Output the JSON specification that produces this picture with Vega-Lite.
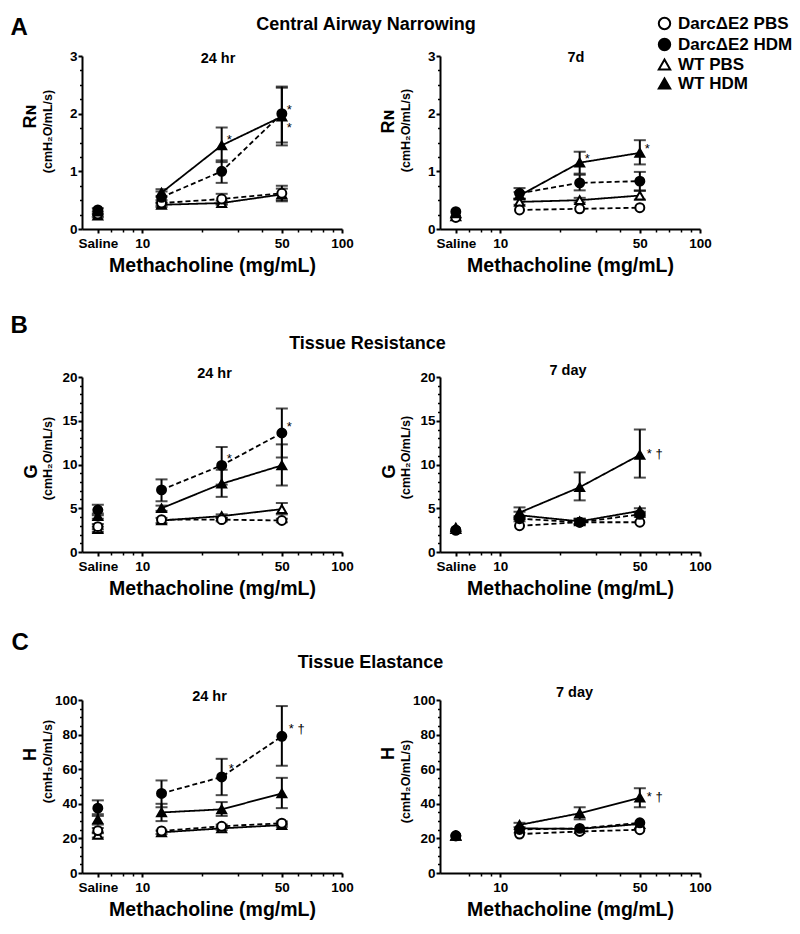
{
  "$schema": "https://vega.github.io/schema/vega-lite/v6.json",
  "padding": {"left": 10, "top": 15, "right": 5, "bottom": 5},
  "config": {
    "font": "Liberation Sans",
    "view": {"stroke": null},
    "axis": {"grid": false, "domainColor": "black", "tickColor": "black", "labelColor": "black", "titleColor": "black", "domainWidth": 2, "tickWidth": 2, "labelFontWeight": "bold", "titleFontWeight": "bold", "labelFontSize": 13.5},
    "legend": {"labelFontWeight": "bold", "labelColor": "black"}
  },
  "datasets": {
    "d": [
      {"p":"A24","g":"WT PBS","dose":6,"v":0.23,"lo":0.20,"hi":0.26},
      {"p":"A24","g":"WT PBS","dose":12.5,"v":0.42,"lo":0.38,"hi":0.46},
      {"p":"A24","g":"WT PBS","dose":25,"v":0.45,"lo":0.42,"hi":0.49},
      {"p":"A24","g":"WT PBS","dose":50,"v":0.60,"lo":0.50,"hi":0.70},
      {"p":"A24","g":"DarcΔE2 PBS","dose":6,"v":0.26},
      {"p":"A24","g":"DarcΔE2 PBS","dose":12.5,"v":0.45,"lo":0.41,"hi":0.50},
      {"p":"A24","g":"DarcΔE2 PBS","dose":25,"v":0.52,"lo":0.44,"hi":0.61},
      {"p":"A24","g":"DarcΔE2 PBS","dose":50,"v":0.62,"lo":0.48,"hi":0.75},
      {"p":"A24","g":"WT HDM","dose":6,"v":0.30},
      {"p":"A24","g":"WT HDM","dose":12.5,"v":0.63,"lo":0.57,"hi":0.69},
      {"p":"A24","g":"WT HDM","dose":25,"v":1.45,"lo":1.16,"hi":1.76},
      {"p":"A24","g":"WT HDM","dose":50,"v":1.95,"lo":1.45,"hi":2.45},
      {"p":"A24","g":"DarcΔE2 HDM","dose":6,"v":0.33,"lo":0.30,"hi":0.36},
      {"p":"A24","g":"DarcΔE2 HDM","dose":12.5,"v":0.55,"lo":0.45,"hi":0.65},
      {"p":"A24","g":"DarcΔE2 HDM","dose":25,"v":1.0,"lo":0.80,"hi":1.19},
      {"p":"A24","g":"DarcΔE2 HDM","dose":50,"v":2.0,"lo":1.50,"hi":2.47},

      {"p":"A7","g":"WT PBS","dose":6,"v":0.22},
      {"p":"A7","g":"WT PBS","dose":12.5,"v":0.47,"lo":0.42,"hi":0.52},
      {"p":"A7","g":"WT PBS","dose":25,"v":0.50,"lo":0.46,"hi":0.54},
      {"p":"A7","g":"WT PBS","dose":50,"v":0.58,"lo":0.51,"hi":0.66},
      {"p":"A7","g":"DarcΔE2 PBS","dose":6,"v":0.20},
      {"p":"A7","g":"DarcΔE2 PBS","dose":12.5,"v":0.33},
      {"p":"A7","g":"DarcΔE2 PBS","dose":25,"v":0.35},
      {"p":"A7","g":"DarcΔE2 PBS","dose":50,"v":0.37},
      {"p":"A7","g":"WT HDM","dose":6,"v":0.27},
      {"p":"A7","g":"WT HDM","dose":12.5,"v":0.58,"lo":0.52,"hi":0.64},
      {"p":"A7","g":"WT HDM","dose":25,"v":1.15,"lo":0.96,"hi":1.34},
      {"p":"A7","g":"WT HDM","dose":50,"v":1.32,"lo":1.12,"hi":1.54},
      {"p":"A7","g":"DarcΔE2 HDM","dose":6,"v":0.30},
      {"p":"A7","g":"DarcΔE2 HDM","dose":12.5,"v":0.62,"lo":0.53,"hi":0.71},
      {"p":"A7","g":"DarcΔE2 HDM","dose":25,"v":0.80,"lo":0.67,"hi":0.94},
      {"p":"A7","g":"DarcΔE2 HDM","dose":50,"v":0.83,"lo":0.67,"hi":0.99},

      {"p":"B24","g":"WT PBS","dose":6,"v":2.6,"lo":2.3,"hi":2.9},
      {"p":"B24","g":"WT PBS","dose":12.5,"v":3.6,"lo":3.3,"hi":3.9},
      {"p":"B24","g":"WT PBS","dose":25,"v":4.1,"lo":3.9,"hi":4.3},
      {"p":"B24","g":"WT PBS","dose":50,"v":4.9,"lo":4.3,"hi":5.6},
      {"p":"B24","g":"DarcΔE2 PBS","dose":6,"v":2.9,"lo":2.6,"hi":3.2},
      {"p":"B24","g":"DarcΔE2 PBS","dose":12.5,"v":3.7},
      {"p":"B24","g":"DarcΔE2 PBS","dose":25,"v":3.7,"lo":3.5,"hi":3.9},
      {"p":"B24","g":"DarcΔE2 PBS","dose":50,"v":3.6,"lo":3.4,"hi":3.8},
      {"p":"B24","g":"WT HDM","dose":6,"v":4.1,"lo":3.8,"hi":4.4},
      {"p":"B24","g":"WT HDM","dose":12.5,"v":5.0,"lo":4.7,"hi":5.3},
      {"p":"B24","g":"WT HDM","dose":25,"v":7.8,"lo":6.3,"hi":9.4},
      {"p":"B24","g":"WT HDM","dose":50,"v":9.9,"lo":7.6,"hi":12.3},
      {"p":"B24","g":"DarcΔE2 HDM","dose":6,"v":4.8,"lo":4.2,"hi":5.4},
      {"p":"B24","g":"DarcΔE2 HDM","dose":12.5,"v":7.1,"lo":5.8,"hi":8.3},
      {"p":"B24","g":"DarcΔE2 HDM","dose":25,"v":9.9,"lo":7.7,"hi":12.0},
      {"p":"B24","g":"DarcΔE2 HDM","dose":50,"v":13.6,"lo":10.8,"hi":16.4},

      {"p":"B7","g":"WT PBS","dose":6,"v":2.6},
      {"p":"B7","g":"WT PBS","dose":12.5,"v":4.2,"lo":3.8,"hi":4.6},
      {"p":"B7","g":"WT PBS","dose":25,"v":3.5,"lo":3.2,"hi":3.8},
      {"p":"B7","g":"WT PBS","dose":50,"v":4.7,"lo":4.4,"hi":5.0},
      {"p":"B7","g":"DarcΔE2 PBS","dose":6,"v":2.5},
      {"p":"B7","g":"DarcΔE2 PBS","dose":12.5,"v":3.0},
      {"p":"B7","g":"DarcΔE2 PBS","dose":25,"v":3.4,"lo":3.2,"hi":3.7},
      {"p":"B7","g":"DarcΔE2 PBS","dose":50,"v":3.4},
      {"p":"B7","g":"WT HDM","dose":6,"v":2.8},
      {"p":"B7","g":"WT HDM","dose":12.5,"v":4.5,"lo":3.9,"hi":5.1},
      {"p":"B7","g":"WT HDM","dose":25,"v":7.4,"lo":5.9,"hi":9.1},
      {"p":"B7","g":"WT HDM","dose":50,"v":11.1,"lo":8.5,"hi":14.0},
      {"p":"B7","g":"DarcΔE2 HDM","dose":6,"v":2.5},
      {"p":"B7","g":"DarcΔE2 HDM","dose":12.5,"v":3.8,"lo":3.5,"hi":4.1},
      {"p":"B7","g":"DarcΔE2 HDM","dose":25,"v":3.4,"lo":3.1,"hi":3.8},
      {"p":"B7","g":"DarcΔE2 HDM","dose":50,"v":4.3,"lo":4.0,"hi":4.6},

      {"p":"C24","g":"WT PBS","dose":6,"v":22,"lo":20.5,"hi":23.5},
      {"p":"C24","g":"WT PBS","dose":12.5,"v":23.5,"lo":22.5,"hi":24.5},
      {"p":"C24","g":"WT PBS","dose":25,"v":25.8,"lo":24.8,"hi":26.8},
      {"p":"C24","g":"WT PBS","dose":50,"v":27.7,"lo":26.7,"hi":28.7},
      {"p":"C24","g":"DarcΔE2 PBS","dose":6,"v":24.5,"lo":23,"hi":26},
      {"p":"C24","g":"DarcΔE2 PBS","dose":12.5,"v":24.3},
      {"p":"C24","g":"DarcΔE2 PBS","dose":25,"v":27.0,"lo":26,"hi":28},
      {"p":"C24","g":"DarcΔE2 PBS","dose":50,"v":28.8,"lo":27.8,"hi":29.8},
      {"p":"C24","g":"WT HDM","dose":6,"v":31,"lo":28,"hi":34},
      {"p":"C24","g":"WT HDM","dose":12.5,"v":35,"lo":30,"hi":40},
      {"p":"C24","g":"WT HDM","dose":25,"v":36.8,"lo":33,"hi":41},
      {"p":"C24","g":"WT HDM","dose":50,"v":46,"lo":37.5,"hi":55},
      {"p":"C24","g":"DarcΔE2 HDM","dose":6,"v":37.5,"lo":33,"hi":42},
      {"p":"C24","g":"DarcΔE2 HDM","dose":12.5,"v":46,"lo":38,"hi":53.5},
      {"p":"C24","g":"DarcΔE2 HDM","dose":25,"v":55.5,"lo":45,"hi":66},
      {"p":"C24","g":"DarcΔE2 HDM","dose":50,"v":79,"lo":62,"hi":96.5},

      {"p":"C7","g":"WT PBS","dose":6,"v":21.5},
      {"p":"C7","g":"WT PBS","dose":12.5,"v":25.8},
      {"p":"C7","g":"WT PBS","dose":25,"v":25.5},
      {"p":"C7","g":"WT PBS","dose":50,"v":28.3},
      {"p":"C7","g":"DarcΔE2 PBS","dose":6,"v":21.5},
      {"p":"C7","g":"DarcΔE2 PBS","dose":12.5,"v":22.5},
      {"p":"C7","g":"DarcΔE2 PBS","dose":25,"v":24},
      {"p":"C7","g":"DarcΔE2 PBS","dose":50,"v":25},
      {"p":"C7","g":"WT HDM","dose":6,"v":21.5},
      {"p":"C7","g":"WT HDM","dose":12.5,"v":27.8,"lo":26.5,"hi":29},
      {"p":"C7","g":"WT HDM","dose":25,"v":34.5,"lo":31,"hi":38},
      {"p":"C7","g":"WT HDM","dose":50,"v":43.5,"lo":38,"hi":49},
      {"p":"C7","g":"DarcΔE2 HDM","dose":6,"v":21.5},
      {"p":"C7","g":"DarcΔE2 HDM","dose":12.5,"v":25.2},
      {"p":"C7","g":"DarcΔE2 HDM","dose":25,"v":25.8},
      {"p":"C7","g":"DarcΔE2 HDM","dose":50,"v":29.0}
    ],
    "ann": [
      {"p":"A24","dose":25,"y":1.55,"label":"*"},
      {"p":"A24","dose":50,"y":2.06,"label":"*"},
      {"p":"A24","dose":50,"y":1.76,"label":"*"},
      {"p":"A7","dose":25,"y":1.22,"label":"*"},
      {"p":"A7","dose":50,"y":1.38,"label":"*"},
      {"p":"B24","dose":25,"y":10.6,"label":"*"},
      {"p":"B24","dose":50,"y":14.3,"label":"*"},
      {"p":"B7","dose":50,"y":11.2,"label":"* †"},
      {"p":"C24","dose":25,"y":60,"label":"*"},
      {"p":"C24","dose":50,"y":83,"label":"* †"},
      {"p":"C7","dose":50,"y":44,"label":"* †"}
    ]
  },
  "columns": 2,
  "bounds": "flush",
  "spacing": {"row": 148, "column": 98},
  "resolve": {"legend": {"shape": "independent", "fill": "independent"}},
  "concat": [
    {
      "width": 260, "height": 173,
      "data": {"name": "d"},
      "transform": [{"filter": "datum.p == 'A24'"}],
      "resolve": {"axis": {"x": "independent", "y": "independent"}},
      "layer": [
        {"transform": [{"filter": "isValid(datum.lo)"}],
         "mark": {"type": "errorbar", "ticks": true, "size": 12, "thickness": 2, "color": "black"},
         "encoding": {
           "x": {"field": "dose", "type": "quantitative", "scale": {"type": "log", "domain": [5, 100], "nice": false},
                 "axis": {"orient": "bottom", "values": [6, 10, 50, 100], "labelExpr": "datum.value < 8 ? 'Saline' : format(datum.value, 'd')", "labelFlush": false, "labelOverlap": false, "tickSize": 4, "labelPadding": 3, "title": "Methacholine (mg/mL)", "titleFontSize": 19.5, "titleY": 42, "titleBaseline": "alphabetic"}},
           "y": {"field": "lo", "type": "quantitative", "scale": {"domain": [0, 3], "nice": false},
                 "axis": {"orient": "left", "values": [0, 1, 2, 3], "tickSize": 4, "labelPadding": 1, "title": "(cmH₂O/mL/s)", "titleFontSize": 12.5, "titleX": -31, "titleY": 75, "titleAngle": -90, "titleAlign": "center", "titleBaseline": "alphabetic"}},
           "y2": {"field": "hi"}
         }},
        {"transform": [{"filter": "datum.dose > 8"}],
         "mark": {"type": "line", "color": "black", "strokeWidth": 1.8},
         "encoding": {
           "x": {"field": "dose", "type": "quantitative", "axis": {"orient": "top", "domain": false, "ticks": false, "labels": false, "title": "24 hr", "titleFontSize": 14.5, "titleX": 135.5, "titleY": 6, "titleAlign": "center", "titleBaseline": "alphabetic"}},
           "y": {"field": "v", "type": "quantitative", "axis": {"orient": "left", "values": [0.25, 0.5, 0.75, 1.25, 1.5, 1.75, 2.25, 2.5, 2.75], "labels": false, "domain": false, "tickSize": 2.5, "tickWidth": 1.5, "title": null}},
           "strokeDash": {"field": "g", "type": "nominal", "scale": {"domain": ["DarcΔE2 PBS", "DarcΔE2 HDM", "WT PBS", "WT HDM"], "range": [[5, 3], [5, 3], [1, 0], [1, 0]]}, "legend": null}
         }},
        {"mark": {"type": "point", "stroke": "black", "strokeWidth": 2, "opacity": 1, "size": 80},
         "encoding": {
           "x": {"field": "dose", "type": "quantitative", "axis": {"orient": "bottom", "values": [7, 8, 9, 20, 30, 40, 60, 70, 80, 90], "labels": false, "domain": false, "tickSize": 3, "tickWidth": 1.5, "title": null}},
           "y": {"field": "v", "type": "quantitative", "axis": {"orient": "left", "labels": false, "ticks": false, "domain": false, "title": "Rɴ", "titleFontSize": 18, "titleX": -47, "titleY": 60, "titleAngle": -90, "titleAlign": "center", "titleBaseline": "alphabetic"}},
           "shape": {"field": "g", "type": "nominal", "scale": {"domain": ["DarcΔE2 PBS", "DarcΔE2 HDM", "WT PBS", "WT HDM"], "range": ["circle", "circle", "triangle-up", "triangle-up"]}, "legend": null},
           "fill": {"field": "g", "type": "nominal", "scale": {"domain": ["DarcΔE2 PBS", "DarcΔE2 HDM", "WT PBS", "WT HDM"], "range": ["white", "black", "white", "black"]}, "legend": null}
         }},
        {"data": {"name": "ann"},
         "transform": [{"filter": "datum.p == 'A24'"}],
         "mark": {"type": "text", "align": "left", "baseline": "middle", "dx": 5, "fontSize": 13, "color": "black"},
         "encoding": {
           "x": {"field": "dose", "type": "quantitative", "axis": {"orient": "top", "domain": false, "ticks": false, "labels": false, "title": "Central Airway Narrowing", "titleFontSize": 18, "titleX": 283.5, "titleY": -27, "titleAlign": "center", "titleBaseline": "alphabetic"}},
           "y": {"field": "y", "type": "quantitative", "axis": {"orient": "left", "domain": false, "ticks": false, "labels": false, "title": "A", "titleFontSize": 24, "titleX": -72, "titleY": -22, "titleAngle": 0, "titleAlign": "left", "titleBaseline": "alphabetic"}},
           "text": {"field": "label"}
         }}
      ]
    },
    {
      "width": 260, "height": 173,
      "data": {"name": "d"},
      "transform": [{"filter": "datum.p == 'A7'"}],
      "resolve": {"axis": {"x": "independent", "y": "independent"}},
      "layer": [
        {"transform": [{"filter": "isValid(datum.lo)"}],
         "mark": {"type": "errorbar", "ticks": true, "size": 12, "thickness": 2, "color": "black"},
         "encoding": {
           "x": {"field": "dose", "type": "quantitative", "scale": {"type": "log", "domain": [5, 100], "nice": false},
                 "axis": {"orient": "bottom", "values": [6, 10, 50, 100], "labelExpr": "datum.value < 8 ? 'Saline' : format(datum.value, 'd')", "labelFlush": false, "labelOverlap": false, "tickSize": 4, "labelPadding": 3, "title": "Methacholine (mg/mL)", "titleFontSize": 19.5, "titleY": 42, "titleBaseline": "alphabetic"}},
           "y": {"field": "lo", "type": "quantitative", "scale": {"domain": [0, 3], "nice": false},
                 "axis": {"orient": "left", "values": [0, 1, 2, 3], "tickSize": 4, "labelPadding": 1, "title": "(cmH₂O/mL/s)", "titleFontSize": 12.5, "titleX": -31, "titleY": 74, "titleAngle": -90, "titleAlign": "center", "titleBaseline": "alphabetic"}},
           "y2": {"field": "hi"}
         }},
        {"transform": [{"filter": "datum.dose > 8"}],
         "mark": {"type": "line", "color": "black", "strokeWidth": 1.8},
         "encoding": {
           "x": {"field": "dose", "type": "quantitative", "axis": {"orient": "top", "domain": false, "ticks": false, "labels": false, "title": "7d", "titleFontSize": 14.5, "titleX": 135.5, "titleY": 5, "titleAlign": "center", "titleBaseline": "alphabetic"}},
           "y": {"field": "v", "type": "quantitative", "axis": {"orient": "left", "values": [0.25, 0.5, 0.75, 1.25, 1.5, 1.75, 2.25, 2.5, 2.75], "labels": false, "domain": false, "tickSize": 2.5, "tickWidth": 1.5, "title": null}},
           "strokeDash": {"field": "g", "type": "nominal", "scale": {"domain": ["DarcΔE2 PBS", "DarcΔE2 HDM", "WT PBS", "WT HDM"], "range": [[5, 3], [5, 3], [1, 0], [1, 0]]}, "legend": null}
         }},
        {"mark": {"type": "point", "stroke": "black", "strokeWidth": 2, "opacity": 1, "size": 80},
         "encoding": {
           "x": {"field": "dose", "type": "quantitative", "axis": {"orient": "bottom", "values": [7, 8, 9, 20, 30, 40, 60, 70, 80, 90], "labels": false, "domain": false, "tickSize": 3, "tickWidth": 1.5, "title": null}},
           "y": {"field": "v", "type": "quantitative", "axis": {"orient": "left", "labels": false, "ticks": false, "domain": false, "title": "Rɴ", "titleFontSize": 18, "titleX": -47, "titleY": 65, "titleAngle": -90, "titleAlign": "center", "titleBaseline": "alphabetic"}},
           "shape": {"field": "g", "type": "nominal", "scale": {"domain": ["DarcΔE2 PBS", "DarcΔE2 HDM", "WT PBS", "WT HDM"], "range": ["circle", "circle", "triangle-up", "triangle-up"]},
                     "legend": {"title": null, "orient": "none", "legendX": 216, "legendY": -41, "symbolSize": 130, "symbolStrokeWidth": 2, "symbolStrokeColor": "black", "labelFontSize": 17, "labelOffset": 5, "rowPadding": 0, "padding": 0,
                                "encoding": {"symbols": {"stroke": {"value": "black"}, "strokeWidth": {"value": 2}}}}},
           "fill": {"field": "g", "type": "nominal", "scale": {"domain": ["DarcΔE2 PBS", "DarcΔE2 HDM", "WT PBS", "WT HDM"], "range": ["white", "black", "white", "black"]},
                    "legend": {"title": null, "orient": "none", "legendX": 216, "legendY": -41, "symbolSize": 130, "symbolStrokeWidth": 2, "symbolStrokeColor": "black", "labelFontSize": 17, "labelOffset": 5, "rowPadding": 0, "padding": 0,
                               "encoding": {"symbols": {"stroke": {"value": "black"}, "strokeWidth": {"value": 2}}}}}
         }},
        {"data": {"name": "ann"},
         "transform": [{"filter": "datum.p == 'A7'"}],
         "mark": {"type": "text", "align": "left", "baseline": "middle", "dx": 5, "fontSize": 13, "color": "black"},
         "encoding": {
           "x": {"field": "dose", "type": "quantitative", "axis": null},
           "y": {"field": "y", "type": "quantitative", "axis": null},
           "text": {"field": "label"}
         }}
      ]
    },
    {
      "width": 260, "height": 175,
      "data": {"name": "d"},
      "transform": [{"filter": "datum.p == 'B24'"}],
      "resolve": {"axis": {"x": "independent", "y": "independent"}},
      "layer": [
        {"transform": [{"filter": "isValid(datum.lo)"}],
         "mark": {"type": "errorbar", "ticks": true, "size": 12, "thickness": 2, "color": "black"},
         "encoding": {
           "x": {"field": "dose", "type": "quantitative", "scale": {"type": "log", "domain": [5, 100], "nice": false},
                 "axis": {"orient": "bottom", "values": [6, 10, 50, 100], "labelExpr": "datum.value < 8 ? 'Saline' : format(datum.value, 'd')", "labelFlush": false, "labelOverlap": false, "tickSize": 4, "labelPadding": 3, "title": "Methacholine (mg/mL)", "titleFontSize": 19.5, "titleY": 42, "titleBaseline": "alphabetic"}},
           "y": {"field": "lo", "type": "quantitative", "scale": {"domain": [0, 20], "nice": false},
                 "axis": {"orient": "left", "values": [0, 5, 10, 15, 20], "tickSize": 4, "labelPadding": 1, "title": "(cmH₂O/mL/s)", "titleFontSize": 12.5, "titleX": -31, "titleY": 81, "titleAngle": -90, "titleAlign": "center", "titleBaseline": "alphabetic"}},
           "y2": {"field": "hi"}
         }},
        {"transform": [{"filter": "datum.dose > 8"}],
         "mark": {"type": "line", "color": "black", "strokeWidth": 1.8},
         "encoding": {
           "x": {"field": "dose", "type": "quantitative", "axis": {"orient": "top", "domain": false, "ticks": false, "labels": false, "title": "24 hr", "titleFontSize": 14.5, "titleX": 132, "titleY": 0, "titleAlign": "center", "titleBaseline": "alphabetic"}},
           "y": {"field": "v", "type": "quantitative", "axis": {"orient": "left", "values": [1, 2, 3, 4, 6, 7, 8, 9, 11, 12, 13, 14, 16, 17, 18, 19], "labels": false, "domain": false, "tickSize": 2.5, "tickWidth": 1.5, "title": null}},
           "strokeDash": {"field": "g", "type": "nominal", "scale": {"domain": ["DarcΔE2 PBS", "DarcΔE2 HDM", "WT PBS", "WT HDM"], "range": [[5, 3], [5, 3], [1, 0], [1, 0]]}, "legend": null}
         }},
        {"mark": {"type": "point", "stroke": "black", "strokeWidth": 2, "opacity": 1, "size": 80},
         "encoding": {
           "x": {"field": "dose", "type": "quantitative", "axis": {"orient": "bottom", "values": [7, 8, 9, 20, 30, 40, 60, 70, 80, 90], "labels": false, "domain": false, "tickSize": 3, "tickWidth": 1.5, "title": null}},
           "y": {"field": "v", "type": "quantitative", "axis": {"orient": "left", "labels": false, "ticks": false, "domain": false, "title": "G", "titleFontSize": 18, "titleX": -46, "titleY": 94, "titleAngle": -90, "titleAlign": "center", "titleBaseline": "alphabetic"}},
           "shape": {"field": "g", "type": "nominal", "scale": {"domain": ["DarcΔE2 PBS", "DarcΔE2 HDM", "WT PBS", "WT HDM"], "range": ["circle", "circle", "triangle-up", "triangle-up"]}, "legend": null},
           "fill": {"field": "g", "type": "nominal", "scale": {"domain": ["DarcΔE2 PBS", "DarcΔE2 HDM", "WT PBS", "WT HDM"], "range": ["white", "black", "white", "black"]}, "legend": null}
         }},
        {"data": {"name": "ann"},
         "transform": [{"filter": "datum.p == 'B24'"}],
         "mark": {"type": "text", "align": "left", "baseline": "middle", "dx": 5, "fontSize": 13, "color": "black"},
         "encoding": {
           "x": {"field": "dose", "type": "quantitative", "axis": {"orient": "top", "domain": false, "ticks": false, "labels": false, "title": "Tissue Resistance", "titleFontSize": 18, "titleX": 285, "titleY": -29, "titleAlign": "center", "titleBaseline": "alphabetic"}},
           "y": {"field": "y", "type": "quantitative", "axis": {"orient": "left", "domain": false, "ticks": false, "labels": false, "title": "B", "titleFontSize": 24, "titleX": -72, "titleY": -45, "titleAngle": 0, "titleAlign": "left", "titleBaseline": "alphabetic"}},
           "text": {"field": "label"}
         }}
      ]
    },
    {
      "width": 260, "height": 175,
      "data": {"name": "d"},
      "transform": [{"filter": "datum.p == 'B7'"}],
      "resolve": {"axis": {"x": "independent", "y": "independent"}},
      "layer": [
        {"transform": [{"filter": "isValid(datum.lo)"}],
         "mark": {"type": "errorbar", "ticks": true, "size": 12, "thickness": 2, "color": "black"},
         "encoding": {
           "x": {"field": "dose", "type": "quantitative", "scale": {"type": "log", "domain": [5, 100], "nice": false},
                 "axis": {"orient": "bottom", "values": [6, 10, 50, 100], "labelExpr": "datum.value < 8 ? 'Saline' : format(datum.value, 'd')", "labelFlush": false, "labelOverlap": false, "tickSize": 4, "labelPadding": 3, "title": "Methacholine (mg/mL)", "titleFontSize": 19.5, "titleY": 42, "titleBaseline": "alphabetic"}},
           "y": {"field": "lo", "type": "quantitative", "scale": {"domain": [0, 20], "nice": false},
                 "axis": {"orient": "left", "values": [0, 5, 10, 15, 20], "tickSize": 4, "labelPadding": 1, "title": "(cmH₂O/mL/s)", "titleFontSize": 12.5, "titleX": -31, "titleY": 80, "titleAngle": -90, "titleAlign": "center", "titleBaseline": "alphabetic"}},
           "y2": {"field": "hi"}
         }},
        {"transform": [{"filter": "datum.dose > 8"}],
         "mark": {"type": "line", "color": "black", "strokeWidth": 1.8},
         "encoding": {
           "x": {"field": "dose", "type": "quantitative", "axis": {"orient": "top", "domain": false, "ticks": false, "labels": false, "title": "7 day", "titleFontSize": 14.5, "titleX": 127.5, "titleY": -3, "titleAlign": "center", "titleBaseline": "alphabetic"}},
           "y": {"field": "v", "type": "quantitative", "axis": {"orient": "left", "values": [1, 2, 3, 4, 6, 7, 8, 9, 11, 12, 13, 14, 16, 17, 18, 19], "labels": false, "domain": false, "tickSize": 2.5, "tickWidth": 1.5, "title": null}},
           "strokeDash": {"field": "g", "type": "nominal", "scale": {"domain": ["DarcΔE2 PBS", "DarcΔE2 HDM", "WT PBS", "WT HDM"], "range": [[5, 3], [5, 3], [1, 0], [1, 0]]}, "legend": null}
         }},
        {"mark": {"type": "point", "stroke": "black", "strokeWidth": 2, "opacity": 1, "size": 80},
         "encoding": {
           "x": {"field": "dose", "type": "quantitative", "axis": {"orient": "bottom", "values": [7, 8, 9, 20, 30, 40, 60, 70, 80, 90], "labels": false, "domain": false, "tickSize": 3, "tickWidth": 1.5, "title": null}},
           "y": {"field": "v", "type": "quantitative", "axis": {"orient": "left", "labels": false, "ticks": false, "domain": false, "title": "G", "titleFontSize": 18, "titleX": -46, "titleY": 94, "titleAngle": -90, "titleAlign": "center", "titleBaseline": "alphabetic"}},
           "shape": {"field": "g", "type": "nominal", "scale": {"domain": ["DarcΔE2 PBS", "DarcΔE2 HDM", "WT PBS", "WT HDM"], "range": ["circle", "circle", "triangle-up", "triangle-up"]}, "legend": null},
           "fill": {"field": "g", "type": "nominal", "scale": {"domain": ["DarcΔE2 PBS", "DarcΔE2 HDM", "WT PBS", "WT HDM"], "range": ["white", "black", "white", "black"]}, "legend": null}
         }},
        {"data": {"name": "ann"},
         "transform": [{"filter": "datum.p == 'B7'"}],
         "mark": {"type": "text", "align": "left", "baseline": "middle", "dx": 7, "fontSize": 13, "color": "black"},
         "encoding": {
           "x": {"field": "dose", "type": "quantitative", "axis": null},
           "y": {"field": "y", "type": "quantitative", "axis": null},
           "text": {"field": "label"}
         }}
      ]
    },
    {
      "width": 260, "height": 173,
      "data": {"name": "d"},
      "transform": [{"filter": "datum.p == 'C24'"}],
      "resolve": {"axis": {"x": "independent", "y": "independent"}},
      "layer": [
        {"transform": [{"filter": "isValid(datum.lo)"}],
         "mark": {"type": "errorbar", "ticks": true, "size": 12, "thickness": 2, "color": "black"},
         "encoding": {
           "x": {"field": "dose", "type": "quantitative", "scale": {"type": "log", "domain": [5, 100], "nice": false},
                 "axis": {"orient": "bottom", "values": [6, 10, 50, 100], "labelExpr": "datum.value < 8 ? 'Saline' : format(datum.value, 'd')", "labelFlush": false, "labelOverlap": false, "tickSize": 4, "labelPadding": 3, "title": "Methacholine (mg/mL)", "titleFontSize": 19.5, "titleY": 42, "titleBaseline": "alphabetic"}},
           "y": {"field": "lo", "type": "quantitative", "scale": {"domain": [0, 100], "nice": false},
                 "axis": {"orient": "left", "values": [0, 20, 40, 60, 80, 100], "tickSize": 4, "labelPadding": 1, "title": "(cmH₂O/mL/s)", "titleFontSize": 12.5, "titleX": -31, "titleY": 61, "titleAngle": -90, "titleAlign": "center", "titleBaseline": "alphabetic"}},
           "y2": {"field": "hi"}
         }},
        {"transform": [{"filter": "datum.dose > 8"}],
         "mark": {"type": "line", "color": "black", "strokeWidth": 1.8},
         "encoding": {
           "x": {"field": "dose", "type": "quantitative", "axis": {"orient": "top", "domain": false, "ticks": false, "labels": false, "title": "24 hr", "titleFontSize": 14.5, "titleX": 127, "titleY": 0, "titleAlign": "center", "titleBaseline": "alphabetic"}},
           "y": {"field": "v", "type": "quantitative", "axis": {"orient": "left", "values": [5, 10, 15, 25, 30, 35, 45, 50, 55, 65, 70, 75, 85, 90, 95], "labels": false, "domain": false, "tickSize": 2.5, "tickWidth": 1.5, "title": null}},
           "strokeDash": {"field": "g", "type": "nominal", "scale": {"domain": ["DarcΔE2 PBS", "DarcΔE2 HDM", "WT PBS", "WT HDM"], "range": [[5, 3], [5, 3], [1, 0], [1, 0]]}, "legend": null}
         }},
        {"mark": {"type": "point", "stroke": "black", "strokeWidth": 2, "opacity": 1, "size": 80},
         "encoding": {
           "x": {"field": "dose", "type": "quantitative", "axis": {"orient": "bottom", "values": [7, 8, 9, 20, 30, 40, 60, 70, 80, 90], "labels": false, "domain": false, "tickSize": 3, "tickWidth": 1.5, "title": null}},
           "y": {"field": "v", "type": "quantitative", "axis": {"orient": "left", "labels": false, "ticks": false, "domain": false, "title": "H", "titleFontSize": 18, "titleX": -47, "titleY": 54, "titleAngle": -90, "titleAlign": "center", "titleBaseline": "alphabetic"}},
           "shape": {"field": "g", "type": "nominal", "scale": {"domain": ["DarcΔE2 PBS", "DarcΔE2 HDM", "WT PBS", "WT HDM"], "range": ["circle", "circle", "triangle-up", "triangle-up"]}, "legend": null},
           "fill": {"field": "g", "type": "nominal", "scale": {"domain": ["DarcΔE2 PBS", "DarcΔE2 HDM", "WT PBS", "WT HDM"], "range": ["white", "black", "white", "black"]}, "legend": null}
         }},
        {"data": {"name": "ann"},
         "transform": [{"filter": "datum.p == 'C24'"}],
         "mark": {"type": "text", "align": "left", "baseline": "middle", "dx": 7, "fontSize": 13, "color": "black"},
         "encoding": {
           "x": {"field": "dose", "type": "quantitative", "axis": {"orient": "top", "domain": false, "ticks": false, "labels": false, "title": "Tissue Elastance", "titleFontSize": 18, "titleX": 288, "titleY": -33, "titleAlign": "center", "titleBaseline": "alphabetic"}},
           "y": {"field": "y", "type": "quantitative", "axis": {"orient": "left", "domain": false, "ticks": false, "labels": false, "title": "C", "titleFontSize": 24, "titleX": -71, "titleY": -51, "titleAngle": 0, "titleAlign": "left", "titleBaseline": "alphabetic"}},
           "text": {"field": "label"}
         }}
      ]
    },
    {
      "width": 260, "height": 173,
      "data": {"name": "d"},
      "transform": [{"filter": "datum.p == 'C7'"}],
      "resolve": {"axis": {"x": "independent", "y": "independent"}},
      "layer": [
        {"transform": [{"filter": "isValid(datum.lo)"}],
         "mark": {"type": "errorbar", "ticks": true, "size": 12, "thickness": 2, "color": "black"},
         "encoding": {
           "x": {"field": "dose", "type": "quantitative", "scale": {"type": "log", "domain": [5, 100], "nice": false},
                 "axis": {"orient": "bottom", "values": [10, 50, 100], "format": "d", "labelFlush": false, "labelOverlap": false, "tickSize": 4, "labelPadding": 3, "title": "Methacholine (mg/mL)", "titleFontSize": 19.5, "titleY": 42, "titleBaseline": "alphabetic"}},
           "y": {"field": "lo", "type": "quantitative", "scale": {"domain": [0, 100], "nice": false},
                 "axis": {"orient": "left", "values": [0, 20, 40, 60, 80, 100], "tickSize": 4, "labelPadding": 1, "title": "(cmH₂O/mL/s)", "titleFontSize": 12.5, "titleX": -31, "titleY": 81, "titleAngle": -90, "titleAlign": "center", "titleBaseline": "alphabetic"}},
           "y2": {"field": "hi"}
         }},
        {"transform": [{"filter": "datum.dose > 8"}],
         "mark": {"type": "line", "color": "black", "strokeWidth": 1.8},
         "encoding": {
           "x": {"field": "dose", "type": "quantitative", "axis": {"orient": "top", "domain": false, "ticks": false, "labels": false, "title": "7 day", "titleFontSize": 14.5, "titleX": 134, "titleY": -4, "titleAlign": "center", "titleBaseline": "alphabetic"}},
           "y": {"field": "v", "type": "quantitative", "axis": {"orient": "left", "values": [5, 10, 15, 25, 30, 35, 45, 50, 55, 65, 70, 75, 85, 90, 95], "labels": false, "domain": false, "tickSize": 2.5, "tickWidth": 1.5, "title": null}},
           "strokeDash": {"field": "g", "type": "nominal", "scale": {"domain": ["DarcΔE2 PBS", "DarcΔE2 HDM", "WT PBS", "WT HDM"], "range": [[5, 3], [5, 3], [1, 0], [1, 0]]}, "legend": null}
         }},
        {"mark": {"type": "point", "stroke": "black", "strokeWidth": 2, "opacity": 1, "size": 80},
         "encoding": {
           "x": {"field": "dose", "type": "quantitative", "axis": {"orient": "bottom", "values": [7, 8, 9, 20, 30, 40, 60, 70, 80, 90], "labels": false, "domain": false, "tickSize": 3, "tickWidth": 1.5, "title": null}},
           "y": {"field": "v", "type": "quantitative", "axis": {"orient": "left", "labels": false, "ticks": false, "domain": false, "title": "H", "titleFontSize": 18, "titleX": -47, "titleY": 53, "titleAngle": -90, "titleAlign": "center", "titleBaseline": "alphabetic"}},
           "shape": {"field": "g", "type": "nominal", "scale": {"domain": ["DarcΔE2 PBS", "DarcΔE2 HDM", "WT PBS", "WT HDM"], "range": ["circle", "circle", "triangle-up", "triangle-up"]}, "legend": null},
           "fill": {"field": "g", "type": "nominal", "scale": {"domain": ["DarcΔE2 PBS", "DarcΔE2 HDM", "WT PBS", "WT HDM"], "range": ["white", "black", "white", "black"]}, "legend": null}
         }},
        {"data": {"name": "ann"},
         "transform": [{"filter": "datum.p == 'C7'"}],
         "mark": {"type": "text", "align": "left", "baseline": "middle", "dx": 7, "fontSize": 13, "color": "black"},
         "encoding": {
           "x": {"field": "dose", "type": "quantitative", "axis": null},
           "y": {"field": "y", "type": "quantitative", "axis": null},
           "text": {"field": "label"}
         }}
      ]
    }
  ]
}
